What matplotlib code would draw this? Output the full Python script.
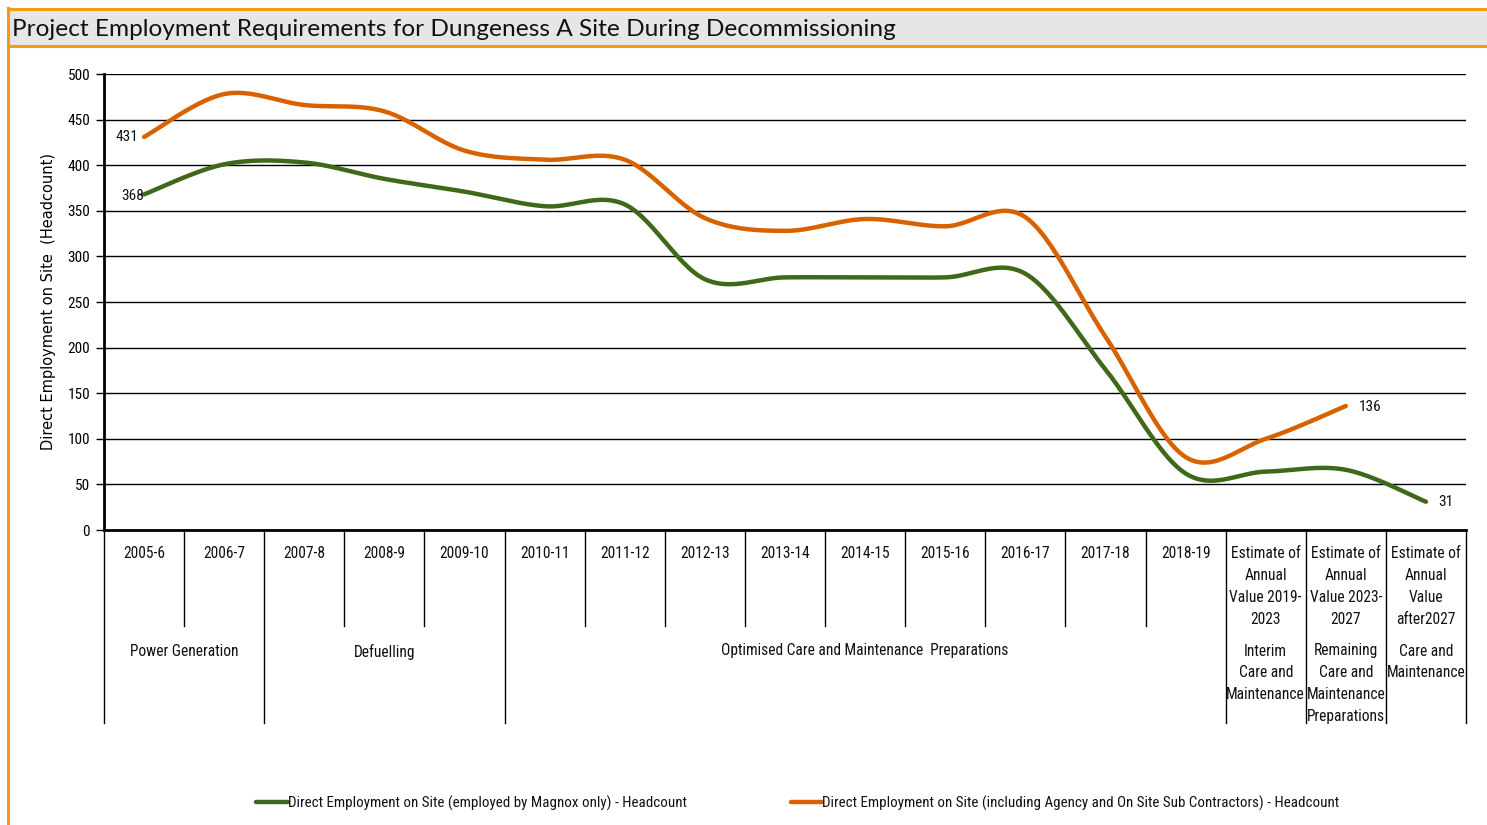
import numpy as np
import matplotlib
matplotlib.use("Agg")
import matplotlib.pyplot as plt
from matplotlib.lines import Line2D
from matplotlib.patches import Rectangle
from matplotlib import transforms, font_manager

# ---------------- data ----------------
categories = ["2005-6", "2006-7", "2007-8", "2008-9", "2009-10", "2010-11", "2011-12",
              "2012-13", "2013-14", "2014-15", "2015-16", "2016-17", "2017-18", "2018-19",
              "Estimate of\nAnnual\nValue 2019-\n2023",
              "Estimate of\nAnnual\nValue 2023-\n2027",
              "Estimate of\nAnnual\nValue\nafter2027"]
magnox_only = [368, 401, 403, 385, 371, 355, 357, 275, 277, 277, 277, 281, 176, 62, 64, 66, 31]
incl_contractors = [431, 478, 466, 459, 416, 406, 406, 342, 328, 341, 333, 343, 212, 80, 100, 136]
phases = [("Power Generation", 0, 1),
          ("Defuelling", 2, 4),
          ("Optimised Care and Maintenance  Preparations", 5, 13),
          ("Interim\nCare and\nMaintenance", 14, 14),
          ("Remaining\nCare and\nMaintenance\nPreparations", 15, 15),
          ("Care and\nMaintenance", 16, 16)]
series_names = ["Direct Employment on Site (employed by Magnox only) - Headcount",
                "Direct Employment on Site (including Agency and On Site Sub Contractors) - Headcount"]
title = "Project Employment Requirements for Dungeness A Site During Decommissioning"
ylabel = "Direct Employment on Site  (Headcount)"
yticks = list(range(0, 501, 50))

GREEN = "#3F681B"
ORANGE = "#D86200"
FRAME = "#F59A12"

# pick a narrow font if one is installed
names = sorted({f.name for f in font_manager.fontManager.ttflist})
narrow = None
for pref in ["Liberation Sans Narrow", "Arial Narrow", "Roboto Condensed", "Open Sans Condensed",
             "DejaVu Sans Condensed", "Noto Sans Condensed"]:
    if pref in names:
        narrow = pref
        break
if narrow is None:
    cand = [n for n in names if ("Narrow" in n or "Condensed" in n)]
    narrow = cand[0] if cand else None
if narrow is None:
    NARROW = ["Roboto", "DejaVu Sans"]
    NSTRETCH = "condensed"
    SCALE = 0.93
else:
    NARROW = [narrow, "DejaVu Sans"]
    NSTRETCH = "normal"
    SCALE = 1.0

W, H = 1487, 825
fig = plt.figure(figsize=(W / 100, H / 100), dpi=100)


def fx(x):
    return x / W


def fy(y):
    return 1 - y / H


FS = 11.2 * SCALE

# frame and title bar
fig.patches.append(Rectangle((fx(9), fy(45)), fx(W - 9), 35 / H, transform=fig.transFigure,
                             facecolor="#E6E6E6", edgecolor="none", zorder=0))
for (x0, y0, x1, y1) in [(8, 9, W, 9), (8, 45.5, W, 45.5), (8, 8, 8, H)]:
    fig.add_artist(Line2D([fx(x0), fx(x1)], [fy(y0), fy(y1)], transform=fig.transFigure,
                          color=FRAME, lw=2.2))
fig.text(fx(12), fy(29), title, fontsize=17.6, family=["Lato", "DejaVu Sans"],
         ha="left", va="center", color="#111111")

# axes
ax = fig.add_axes([fx(104), fy(530), fx(1466) - fx(104), (530 - 74) / H])
n = len(categories)
ax.set_xlim(-0.5, n - 0.5)
ax.set_ylim(0, 500)
ax.set_yticks(yticks)
ax.set_yticklabels([str(v) for v in yticks], family=NARROW, fontsize=11 * SCALE, stretch=NSTRETCH)
ax.set_xticks([])
ax.tick_params(axis="y", length=6, width=1, direction="out", pad=4)
for s in ["top", "right"]:
    ax.spines[s].set_visible(False)
ax.spines["left"].set_linewidth(2)
ax.spines["bottom"].set_linewidth(2)
ax.yaxis.grid(True, color="#000000", lw=1)
ax.set_axisbelow(True)
ax.set_ylabel(ylabel, family="DejaVu Sans", fontsize=10.5)
ax.yaxis.set_label_coords((56 - 104) / (1466 - 104), (530 - 302) / (530 - 74))


def smooth(xs, ys, steps=30):
    xs = np.asarray(xs, float)
    ys = np.asarray(ys, float)
    px = np.concatenate([[xs[0]], xs, [xs[-1]]])
    py = np.concatenate([[ys[0]], ys, [ys[-1]]])
    outx, outy = [], []
    t = np.linspace(0, 1, steps)
    for i in range(1, len(px) - 2):
        p0, p1, p2, p3 = (np.array([px[j], py[j]]) for j in (i - 1, i, i + 1, i + 2))
        b1 = p1 + (p2 - p0) / 6
        b2 = p2 - (p3 - p1) / 6
        pts = ((1 - t) ** 3)[:, None] * p1 + (3 * (1 - t) ** 2 * t)[:, None] * b1 + \
              (3 * (1 - t) * t ** 2)[:, None] * b2 + (t ** 3)[:, None] * p2
        outx.extend(pts[:, 0])
        outy.extend(pts[:, 1])
    return outx, outy


for vals, col in [(magnox_only, GREEN), (incl_contractors, ORANGE)]:
    xs = np.arange(len(vals))
    sx, sy = smooth(xs, vals)
    ax.plot(sx, sy, color=col, lw=3.2, solid_capstyle="round", zorder=3, clip_on=False)

# data labels
lab_kw = dict(textcoords="offset points", family=NARROW, fontsize=11 * SCALE, stretch=NSTRETCH,
              va="center", color="#111111")
ax.annotate(str(incl_contractors[0]), (0, incl_contractors[0]), xytext=(-4, 0), ha="right", **lab_kw)
ax.annotate(str(magnox_only[0]), (0, magnox_only[0]), xytext=(0, -1), ha="right", **lab_kw)
ax.annotate(str(incl_contractors[-1]), (len(incl_contractors) - 1, incl_contractors[-1]),
            xytext=(9, -1), ha="left", **lab_kw)
ax.annotate(str(magnox_only[-1]), (len(magnox_only) - 1, magnox_only[-1]),
            xytext=(9, -0.5), ha="left", **lab_kw)

# category table below axis
bt = transforms.blended_transform_factory(ax.transData, fig.transFigure)
group_edges = set()
for _, a, b in phases:
    group_edges.add(a - 0.5)
    group_edges.add(b + 0.5)
for k in range(n + 1):
    xb = k - 0.5
    bottom = 723 if xb in group_edges else 626
    ax.add_line(Line2D([xb, xb], [fy(530), fy(bottom)], transform=bt, color="#000000",
                       lw=1, clip_on=False))
for i, c in enumerate(categories):
    ax.text(i, fy(546.5), c, transform=bt, ha="center", va="top", family=NARROW,
            fontsize=FS, stretch=NSTRETCH, linespacing=1.58, color="#111111")
for name, a, b in phases:
    ax.text((a + b) / 2, fy(643.5), name, transform=bt, ha="center", va="top", family=NARROW,
            fontsize=FS, stretch=NSTRETCH, linespacing=1.58, color="#111111")

# legend
for (x0, x1, tx), col, name in [((256, 288, 288), GREEN, series_names[0]),
                               ((791, 822, 822), ORANGE, series_names[1])]:
    fig.add_artist(Line2D([fx(x0), fx(x1)], [fy(801.5), fy(801.5)], transform=fig.transFigure,
                          color=col, lw=3.2, solid_capstyle="round"))
    fig.text(fx(tx), fy(803.5), name, family=NARROW, fontsize=10.8 * SCALE, stretch=NSTRETCH,
             ha="left", va="center", color="#111111")

fig.savefig("out.png", dpi=100)
